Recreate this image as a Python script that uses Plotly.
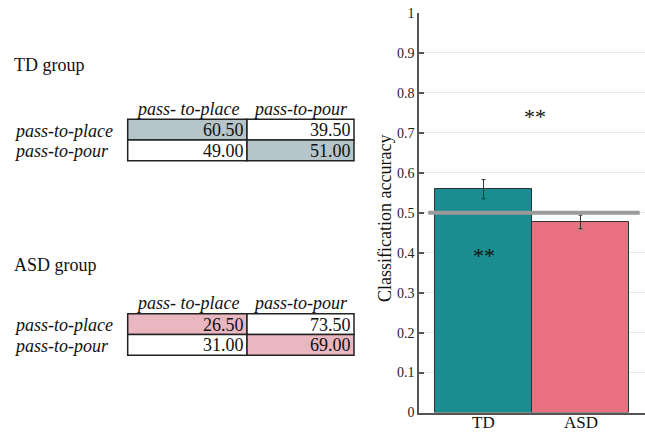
import plotly.graph_objects as go

# ---- data ----
groups = ["TD", "ASD"]
accuracy = [0.559, 0.477]
acc_error = [0.024, 0.017]
chance_level = 0.5
bar_colors = ["#1b8c90", "#e97081"]

col_labels = ["pass- to-place", "pass-to-pour"]
row_labels = ["pass-to-place", "pass-to-pour"]
td_matrix = [[60.50, 39.50], [49.00, 51.00]]
asd_matrix = [[26.50, 73.50], [31.00, 69.00]]
table_titles = ["TD group", "ASD group"]
diag_colors = ["#b5c5c9", "#e8b7c0"]

sig_labels = ["**", "**"]
sig_x = [0.53, 0.0]
sig_y = [0.74, 0.393]

y_ticks = [0, 0.1, 0.2, 0.3, 0.4, 0.5, 0.6, 0.7, 0.8, 0.9, 1]
y_tick_text = ["0", "0.1", "0.2", "0.3", "0.4", "0.5", "0.6", "0.7", "0.8", "0.9", "1"]
y_title = "Classification accuracy"

W, H = 645, 433
FONT = "Liberation Serif"


def px(x):
    return x / W


def py(y):
    return 1 - y / H


fig = go.Figure()
fig.add_trace(go.Bar(
    x=groups, y=accuracy,
    marker=dict(color=bar_colors, line=dict(color="#333333", width=1)),
    width=1.0,
    error_y=dict(type="data", array=acc_error, color="#333333", thickness=1, width=2),
    showlegend=False,
))

# chance line
fig.add_shape(type="line", xref="x", yref="y", x0=-0.57, x1=1.61,
              y0=chance_level, y1=chance_level,
              line=dict(color="#9a9a9a", width=4), layer="above")

for t, xx, yy in zip(sig_labels, sig_x, sig_y):
    fig.add_annotation(x=xx, y=yy, xref="x", yref="y", text=t, showarrow=False,
                       font=dict(family=FONT, size=22, color="#111111"))

# category labels (placed as axis-anchored text so they fit the canvas)
for g in groups:
    fig.add_annotation(x=g, y=0, xref="x", yref="paper", text=g, showarrow=False,
                       xanchor="center", yanchor="bottom", borderpad=0,
                       font=dict(family=FONT, size=17, color="#111111"))

# y-axis title
fig.add_annotation(x=px(385), y=py(218), xref="paper", yref="paper", text=y_title,
                   textangle=-90, showarrow=False, xanchor="center", yanchor="middle",
                   font=dict(family=FONT, size=18, color="#111111"))

# ---- tables ----
annotations = []
shapes = []
col_edges = [127.7, 247, 354]
table_tops = [119.3, 313.8]
row_h = 20.7
title_y = [65, 265]
header_off = 10.5
for g, (mat, ttl, dcol, top, ty) in enumerate(zip([td_matrix, asd_matrix], table_titles,
                                                 diag_colors, table_tops, title_y)):
    annotations.append(dict(x=px(12), y=py(ty), xref="paper", yref="paper", text=ttl,
                            xanchor="left", yanchor="middle", showarrow=False,
                            font=dict(family=FONT, size=18, color="#111111")))
    for j, cl in enumerate(col_labels):
        cx = (col_edges[j] + col_edges[j + 1]) / 2
        annotations.append(dict(x=px(cx), y=py(top - header_off), xref="paper", yref="paper",
                                text="<i>" + cl + "</i>", xanchor="center", yanchor="middle",
                                showarrow=False, font=dict(family=FONT, size=18, color="#111111")))
    for i, rl in enumerate(row_labels):
        y0 = top + i * row_h
        y1 = y0 + row_h
        yc = (y0 + y1) / 2
        annotations.append(dict(x=px(12), y=py(yc + 1), xref="paper", yref="paper",
                                text="<i>" + rl + "</i>", xanchor="left", yanchor="middle",
                                showarrow=False, font=dict(family=FONT, size=18, color="#111111")))
        for j in range(2):
            fill = dcol if i == j else "#ffffff"
            shapes.append(dict(type="rect", xref="paper", yref="paper",
                               x0=px(col_edges[j]), x1=px(col_edges[j + 1]),
                               y0=py(y1), y1=py(y0), fillcolor=fill,
                               line=dict(color="#222222", width=1.5), layer="below"))
            annotations.append(dict(x=px(col_edges[j + 1] - 1), y=py(yc + 0.5), xref="paper",
                                    yref="paper", text=f"{mat[i][j]:.2f}", xanchor="right",
                                    yanchor="middle", showarrow=False,
                                    font=dict(family=FONT, size=18, color="#111111")))

for a in annotations:
    fig.add_annotation(**a)
for s in shapes:
    fig.add_shape(**s)

fig.update_layout(
    width=W, height=H,
    margin=dict(l=0, r=0, t=0, b=0, autoexpand=False),
    paper_bgcolor="white", plot_bgcolor="white",
    bargap=0,
    font=dict(family=FONT, color="#111111"),
    xaxis=dict(domain=[px(419), 1.0], range=[-0.665, 1.665], showline=True,
               linecolor="#555555", linewidth=1.5, ticks="", showgrid=False,
               automargin=False, showticklabels=False, zeroline=False),
    yaxis=dict(domain=[py(412.5), py(13)], range=[0, 1], showline=True,
               automargin=False,
               linecolor="#555555", linewidth=1.5, ticks="inside", ticklen=5,
               tickcolor="#555555", tickwidth=1.5,
               tickvals=y_ticks, ticktext=y_tick_text,
               showgrid=True, gridcolor="#e9e9e9", gridwidth=1, zeroline=False,
               tickfont=dict(family=FONT, size=14, color="#222222")),
)

fig.write_html("out.html", config={"displayModeBar": False},
               post_script="document.body.style.margin='0';document.body.style.overflow='hidden';")
